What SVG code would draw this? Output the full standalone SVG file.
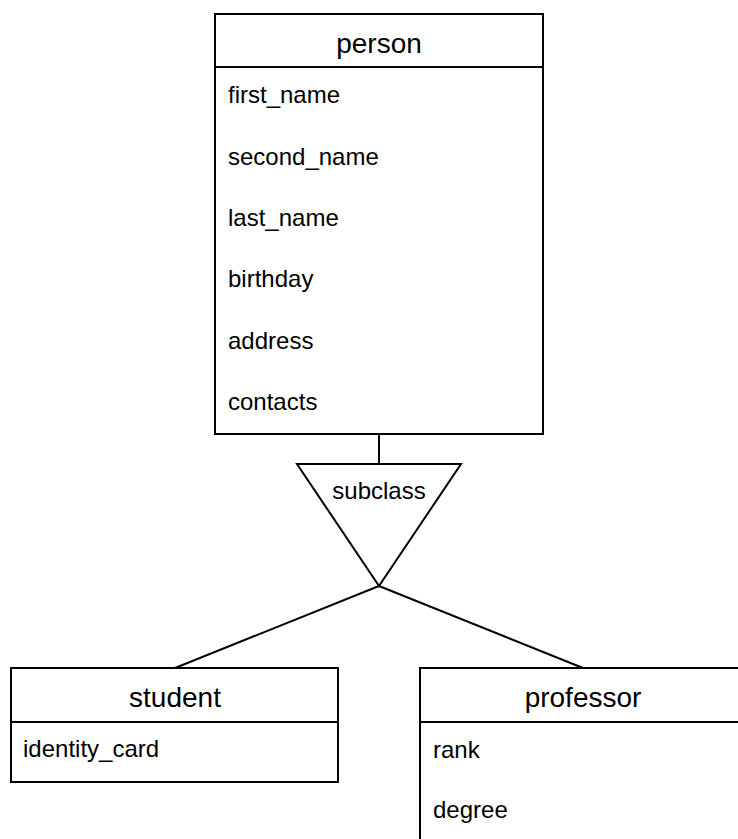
<svg xmlns="http://www.w3.org/2000/svg" width="738" height="839" viewBox="0 0 738 839">
  <style>
    .box { fill: #ffffff; stroke: #000000; stroke-width: 2; }
    .sep { stroke: #000000; stroke-width: 2; }
    .edge { fill: none; stroke: #000000; stroke-width: 2; }
    .title { font-family: "Liberation Sans", Arial, sans-serif; font-size: 28px; fill: #000000; text-anchor: middle; }
    .attr { font-family: "Liberation Sans", Arial, sans-serif; font-size: 24px; fill: #000000; }
  </style>
  <rect width="738" height="839" fill="#ffffff"/>

  <!-- connectors -->
  <g id="connectors">
    <line class="edge" x1="379" y1="434" x2="379" y2="464"/>
    <line class="edge" x1="379" y1="586" x2="175" y2="668"/>
    <line class="edge" x1="379" y1="586" x2="583" y2="668"/>
  </g>

  <!-- entity: person -->
  <g id="person">
    <rect class="box" x="215" y="14" width="328" height="420"/>
    <line class="sep" x1="215" y1="67" x2="543" y2="67"/>
    <text class="title" x="379" y="53">person</text>
    <text class="attr" x="228" y="103">first_name</text>
    <text class="attr" x="228" y="165">second_name</text>
    <text class="attr" x="228" y="226">last_name</text>
    <text class="attr" x="228" y="287">birthday</text>
    <text class="attr" x="228" y="349">address</text>
    <text class="attr" x="228" y="410">contacts</text>
  </g>

  <!-- specialisation triangle -->
  <g id="subclass">
    <polygon class="box" points="297,464 461,464 379,586"/>
    <text class="attr" x="379" y="499" text-anchor="middle">subclass</text>
  </g>

  <!-- entity: student -->
  <g id="student">
    <rect class="box" x="11" y="668" width="327" height="114"/>
    <line class="sep" x1="11" y1="722" x2="338" y2="722"/>
    <text class="title" x="175" y="707">student</text>
    <text class="attr" x="23" y="757">identity_card</text>
  </g>

  <!-- entity: professor -->
  <g id="professor">
    <rect class="box" x="420" y="668" width="330" height="190"/>
    <line class="sep" x1="420" y1="722" x2="750" y2="722"/>
    <text class="title" x="583" y="707">professor</text>
    <text class="attr" x="433" y="758">rank</text>
    <text class="attr" x="433" y="818">degree</text>
  </g>
</svg>
